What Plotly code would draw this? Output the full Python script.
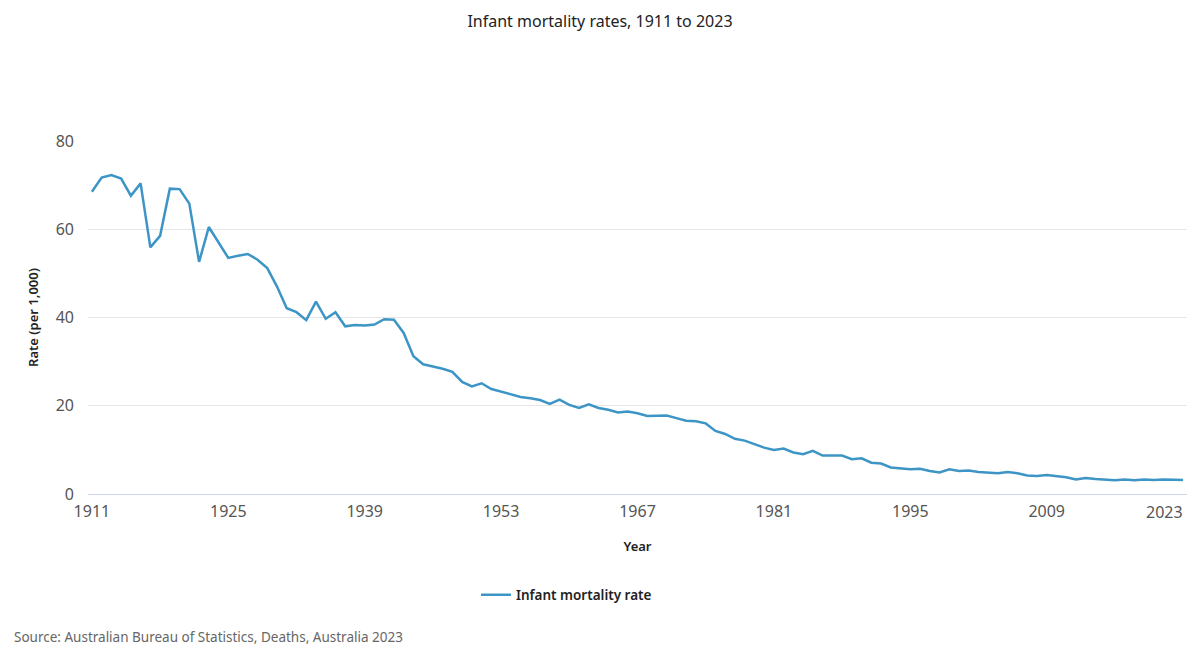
import plotly.graph_objects as go

years = list(range(1911, 2024))

rate = [
    68.5, 71.7, 72.3, 71.5, 67.6, 70.4, 55.9, 58.5, 69.2, 69.1,   # 1911-1920
    65.8, 52.6, 60.5, 57.0, 53.5, 54.0, 54.4, 53.1, 51.2, 47.0,   # 1921-1930
    42.1, 41.2, 39.4, 43.6, 39.7, 41.2, 38.0, 38.3, 38.2, 38.4,   # 1931-1940
    39.6, 39.5, 36.5, 31.2, 29.4, 28.9, 28.4, 27.7, 25.4, 24.4,   # 1941-1950
    25.1, 23.8, 23.2, 22.5, 22.0, 21.7, 21.3, 20.4, 21.4, 20.2,   # 1951-1960
    19.5, 20.3, 19.5, 19.1, 18.5, 18.7, 18.3, 17.7, 17.8, 17.8,   # 1961-1970
    17.2, 16.6, 16.5, 16.0, 14.3, 13.6, 12.5, 12.1, 11.3, 10.5,   # 1971-1980
    10.0, 10.3, 9.4, 9.0, 9.8, 8.7, 8.7, 8.7, 7.9, 8.1,           # 1981-1990
    7.1, 6.9, 6.0, 5.8, 5.6, 5.7, 5.2, 4.9, 5.6, 5.2,             # 1991-2000
    5.3, 5.0, 4.8, 4.7, 5.0, 4.7, 4.2, 4.1, 4.3, 4.1,             # 2001-2010
    3.8, 3.3, 3.6, 3.4, 3.2, 3.1, 3.3, 3.1, 3.3, 3.2,             # 2011-2020
    3.3, 3.2, 3.2,                                                # 2021-2023
]

x_ticks = [1911, 1925, 1939, 1953, 1967, 1981, 1995, 2009, 2023]
y_ticks = [0, 20, 40, 60, 80]

font_family = "Noto Sans, Open Sans, sans-serif"
tick_font = dict(size=16, color="#555555")

fig = go.Figure()

fig.add_trace(go.Scatter(
    x=years, y=rate,
    mode="lines",
    name="Infant mortality rate",
    line=dict(color="#3d95c6", width=2.5),
    hovertemplate="%{x}: %{y}<extra></extra>",
))

# page body has an 8px margin, so the figure is sized and placed to allow for it
fig.update_layout(
    width=1184, height=651,
    paper_bgcolor="white",
    plot_bgcolor="white",
    font=dict(family=font_family, color="#333333"),
    title=dict(
        text="Infant mortality rates, 1911 to 2023",
        x=0.5, xanchor="center",
        y=0.979, yanchor="middle",
        font=dict(size=16, color="#222222"),
    ),
    margin=dict(l=80, r=5, t=133, b=165),
    showlegend=True,
    legend=dict(
        orientation="h",
        x=0.353, xanchor="left",
        y=-0.286, yanchor="middle",
        font=dict(size=13.5, color="#222222", weight=600),
    ),
)

# last year label sits inside the plot edge, like the original
tick_text = [str(v) for v in x_ticks[:-1]] + [""]

fig.update_xaxes(
    range=[1910.6, 2023.4],
    tickvals=x_ticks,
    ticktext=tick_text,
    showgrid=False,
    showline=True, linecolor="#ccd6eb", linewidth=1,
    ticks="", zeroline=False,
    ticklabelstandoff=3,
    ticklabeloverflow="allow",
    automargin=False,
    tickfont=tick_font,
    title=dict(text="Year", font=dict(size=13, color="#222222", weight=600), standoff=20),
)

fig.update_yaxes(
    range=[0, 80],
    tickvals=y_ticks,
    showgrid=True, gridcolor="#e6e6e6", gridwidth=1,
    zeroline=False,
    ticks="", ticklabelstandoff=13,
    automargin=False,
    tickfont=tick_font,
    title=dict(text="Rate (per 1,000)", font=dict(size=13, color="#222222", weight=600), standoff=14),
)

fig.add_annotation(
    text=str(x_ticks[-1]),
    xref="paper", yref="paper",
    x=1, xanchor="right", xshift=-2,
    y=-0.051, yanchor="middle",
    showarrow=False,
    font=tick_font,
)

fig.add_annotation(
    text="Source: Australian Bureau of Statistics, Deaths, Australia 2023",
    xref="paper", yref="paper",
    x=-0.069, xanchor="left",
    y=-0.405, yanchor="middle",
    showarrow=False,
    font=dict(size=13.5, color="#666666"),
)

fig.write_html("out.html")
